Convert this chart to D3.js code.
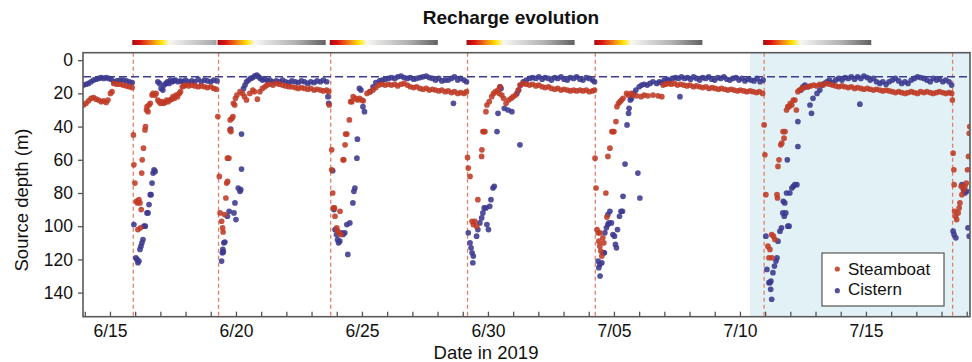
<!DOCTYPE html>
<html>
<head>
<meta charset="utf-8">
<script src="https://cdn.jsdelivr.net/npm/d3@7"></script>
<style>
  body { margin: 0; background: #fff; }
  text { font-family: "Liberation Sans", Arial, Helvetica, sans-serif; fill: #111; }
</style>
</head>
<body>
<svg id="chart" width="972" height="362"></svg>
<script>
// Times are fractional days counted from 1 June 2019 (so 35 = 5 July).
const rechargeEvents = [15.925, 19.31, 23.76, 29.19, 34.26, 40.96, 48.44];
const shadedSpan = [40.40, 49.3];
const referenceDepth = 10;
const rechargeBarDays = 4.33;
const depthTicks = [0, 20, 40, 60, 80, 100, 120, 140];
const dateLabelDays = [15, 20, 25, 30, 35, 40, 45];
const seriesNames = ["Steamboat", "Cistern"];
const seriesColors = ["#bf3a24", "#3b388e"];

// [day, source depth in m]
const steamboat = [
  [13.95,27],[14.05,26],[14.15,24.5],[14.25,23],[14.35,22.5],[14.45,23.5],[14.55,24],[14.65,25],[14.75,24.5],[14.85,25.5],[14.92,24],[15.02,20],[15.08,19],
  [15.15,14],[15.27,14.5],[15.4,14.5],[15.52,15],[15.65,15.5],[15.77,16],[15.88,16.5],
  [15.93,45],[15.95,63],[15.99,74],[16.05,85],[16.09,86],[16.11,102],[16.15,84],[16.19,86],[16.21,101],[16.24,90],[16.26,68],[16.28,60],[16.33,53],
  [16.39,42],[16.41,40],[16.45,30],[16.47,28],[16.51,31],[16.55,27],[16.6,26],[16.67,21],[16.71,20],[16.79,21],[16.83,20],[16.9,24],[16.95,25],
  [17.0,26],[17.06,25],[17.12,26],[17.18,25.5],[17.25,24],[17.31,25],[17.38,24],[17.44,23.5],[17.5,22],[17.56,23],[17.62,21],[17.68,22],[17.75,20],
  [17.8,19],[17.87,16],[17.93,15.5],[18.0,15],[18.12,15.5],[18.25,15],[18.37,15.5],[18.5,16],[18.62,15.5],[18.75,16],[18.87,16.5],[19.0,16],
  [19.12,17],[19.22,17.5],[19.28,34],
  [19.34,70],[19.37,92],[19.43,97],[19.47,101],[19.49,103.5],[19.55,93],[19.6,83],[19.63,74],[19.67,73],[19.66,59],[19.72,59],[19.76,42],[19.8,43],
  [19.77,36],[19.84,35],[19.88,34],[19.9,26],[19.95,27],[19.98,23],[20.04,21],[20.16,19],[20.26,20],[20.34,22],[20.42,24],[20.55,20],[20.67,18],
  [20.73,19],[20.85,23.5],[20.95,19],[21.05,17],[21.15,16],[21.23,15],[21.35,14.5],[21.47,15],[21.6,14],[21.72,14.5],[21.85,15],[21.97,15.5],
  [22.1,16],[22.22,16],[22.35,16.5],[22.47,17],[22.6,16.5],[22.72,17],[22.85,17.5],[22.97,17],[23.1,18],[23.22,17.5],[23.35,18],[23.47,18.5],
  [23.6,18],[23.68,19],[23.7,27],
  [23.8,54],[23.8,66],[23.84,80],[23.87,89],[23.91,89],[23.93,94],[24.0,101],[24.04,103],[24.09,104],[24.13,91],[24.17,105],[24.25,60],[24.28,60],
  [24.33,51],[24.35,44.5],[24.4,44.5],[24.5,36],[24.55,25],[24.6,25],[24.65,22],[24.75,23],[24.83,24],[24.9,23],[25.0,24],[25.05,24.5],[25.2,20],
  [25.32,19],[25.44,18],[25.55,16.5],[25.67,15],[25.8,14.5],[25.92,15],[26.05,14.5],[26.17,15],[26.3,14.5],[26.42,15.5],[26.55,14.5],[26.67,14],
  [26.8,15],[26.92,16],[27.05,16.5],[27.17,16],[27.3,17],[27.42,17.5],[27.55,17],[27.67,18],[27.8,17.5],[27.92,18],[28.05,18.5],[28.17,18],
  [28.3,19],[28.42,18.5],[28.55,19.5],[28.67,19],[28.8,20],[28.92,19.5],[29.05,20],[29.15,19],
  [29.19,58.6],[29.22,65],[29.29,70],[29.37,97],[29.42,99],[29.48,97],[29.55,100],[29.6,84],[29.75,58],[29.76,54],[29.8,43],[29.84,43],[29.88,43],
  [29.92,31],[29.96,27],[30.05,25],[30.15,22],[30.22,20],[30.3,19],[30.4,18],[30.48,16],[30.45,20],[30.55,21],[30.62,23],[30.72,26],[30.82,24],
  [30.92,23],[31.0,22],[31.1,21],[31.2,18],[31.27,15],[31.4,14],[31.52,14.5],[31.65,15],[31.77,14.5],[31.9,15.5],[32.02,15],[32.15,16],
  [32.27,16.5],[32.4,16],[32.52,17],[32.65,17.5],[32.77,17],[32.9,18],[33.02,17.5],[33.15,18],[33.27,18.5],[33.4,18],[33.52,18.5],[33.65,18],
  [33.77,18.5],[33.9,18],[34.02,19],[34.15,18.5],[34.23,18],
  [34.25,59],[34.29,77],[34.33,102],[34.37,104],[34.4,109],[34.44,112],[34.48,115],[34.52,118],[34.45,104],[34.56,107],[34.6,110],[34.68,80],
  [34.72,94.5],[34.76,58],[34.84,53],[34.92,43],[34.96,43],[35.0,43],[35.08,37],[35.12,28],[35.18,26],[35.24,25],[35.3,24],[35.36,23],[35.5,20],
  [35.56,21],[35.68,20],[35.75,21],[35.9,21.5],[36.08,22],[36.2,21],[36.35,21.5],[36.55,21],[36.75,21.5],[36.9,22],[36.95,15],[37.05,14.5],
  [37.15,14],[37.27,14.5],[37.4,14],[37.52,15],[37.65,14.5],[37.77,15],[37.9,15.5],[38.02,15],[38.15,16],[38.27,15.5],[38.4,16],[38.52,16.5],
  [38.65,16],[38.77,17],[38.9,16.5],[39.02,17],[39.15,17.5],[39.27,17],[39.4,17.5],[39.52,18],[39.65,17.5],[39.77,18],[39.9,18.5],[40.02,18],
  [40.15,18.5],[40.27,19],[40.4,18.5],[40.52,19],[40.65,19.5],[40.77,19],[40.9,20],
  [40.96,39],[40.99,57],[41.03,81],[41.11,112],[41.19,114],[41.15,119],[41.27,119],[41.26,105],[41.33,106],[41.39,108],[41.47,81],[41.49,83],
  [41.51,64],[41.55,60],[41.62,51],[41.66,50],[41.71,43],[41.79,43],[41.75,47],[41.85,30],[41.9,28],[41.95,28],[42.0,26],[42.06,27],[42.12,24],
  [42.18,24],[42.24,30],[42.3,19],[42.36,18],[42.46,17],[42.56,16.5],[42.68,16],[42.8,15.5],[42.93,15],[43.05,15.5],[43.17,14.5],[43.3,15],
  [43.42,14],[43.55,14.5],[43.67,15],[43.8,15.5],[43.92,16],[44.05,15.5],[44.17,16],[44.3,16.5],[44.42,16],[44.55,17],[44.67,16.5],[44.8,17],
  [44.92,17.5],[45.05,17],[45.17,17.5],[45.3,18],[45.42,17.5],[45.55,18],[45.67,18.5],[45.8,18],[45.92,18.5],[46.05,19],[46.17,19.5],[46.3,19],
  [46.42,19.5],[46.55,20],[46.67,19.5],[46.8,19],[46.92,19.5],[47.05,20],[47.17,19],[47.3,19.5],[47.42,19],[47.55,19.5],[47.67,20],[47.8,19.5],
  [47.92,19],[48.05,19.5],[48.17,20],[48.3,19.5],[48.4,20],
  [48.43,24],[48.46,56],[48.49,66],[48.5,75],[48.52,91],[48.56,94],[48.6,96],[48.66,92],[48.7,89],[48.73,86],[48.78,76],[48.81,81],[48.88,78],
  [48.93,76],[48.98,74],[49.03,66],[49.07,58],[49.1,44],[49.12,40]
];

const cistern = [
  [13.95,15],[14.05,14.5],[14.15,14],[14.25,13],[14.35,12],[14.45,11.5],[14.55,11],[14.65,10.5],[14.75,11],[14.85,10.5],[14.95,11],[15.05,11.5],
  [15.15,13],[15.27,12.5],[15.4,12],[15.52,12],[15.65,12.5],[15.77,13],[15.88,13.5],
  [15.95,99],[16.03,119],[16.07,120],[16.11,122],[16.15,121],[16.19,114],[16.23,112],[16.27,110],[16.31,108],[16.35,100],[16.4,100],[16.47,92],
  [16.51,92],[16.55,87],[16.6,81],[16.63,81],[16.67,74],[16.71,68],[16.75,66],[16.79,67],[16.9,13],[16.97,14],[17.03,17],[17.1,18],[17.15,15],
  [17.22,14],[17.28,13],[17.35,14],[17.4,12],[17.47,13],[17.53,12.5],[17.6,12],[17.7,13],[17.8,12.5],[17.9,13],[18.0,12],[18.12,13],[18.25,12.5],
  [18.37,13],[18.5,11.5],[18.62,13],[18.75,12],[18.87,12.5],[19.0,13],[19.12,12],[19.25,12.5],
  [19.43,121],[19.46,116],[19.48,114],[19.5,115.5],[19.52,110],[19.56,109.5],[19.66,94],[19.73,91],[19.79,41.5],[19.92,92],[19.96,86],[20.0,96],
  [20.09,77],[20.16,79],[20.19,78],[20.22,65.6],[20.22,44.5],[20.3,17],[20.36,15],[20.42,13],[20.5,12],[20.58,11],[20.67,10.5],[20.75,9.5],
  [20.83,9],[20.9,10],[20.97,11],[21.05,12],[21.15,11.5],[21.25,12.5],[21.35,12],[21.47,13],[21.6,12.5],[21.72,13],[21.85,12],[21.97,13],
  [22.1,13.5],[22.22,12.5],[22.35,13],[22.47,13.5],[22.6,12.5],[22.72,13],[22.85,14],[22.97,13],[23.1,13.5],[23.22,12.5],[23.35,13],[23.47,12],
  [23.6,13],[23.65,22],[23.68,26],
  [23.84,66.6],[23.89,90],[23.93,102],[23.99,105],[24.03,108],[24.07,110],[24.12,109],[24.2,104],[24.25,105],[24.32,104],[24.4,99],[24.44,117],
  [24.52,98],[24.64,86],[24.68,79],[24.72,77],[24.8,59],[24.82,47.6],[24.9,17],[24.96,18],[25.04,28],[25.1,31],[25.32,19],[25.44,16],[25.55,13.5],
  [25.7,12.5],[25.8,12],[25.92,11.5],[26.05,11],[26.17,10.5],[26.3,11],[26.42,10],[26.55,9.6],[26.67,10.5],[26.8,11],[26.92,10.5],[27.05,11.5],
  [27.17,11],[27.3,10.5],[27.42,10],[27.55,9.6],[27.67,10.5],[27.8,11],[27.92,12],[28.05,11],[28.17,12.5],[28.3,12],[28.42,12],[28.55,11],
  [28.63,26],[28.67,10],[28.8,12],[28.92,11],[29.05,12],[29.15,13],
  [29.22,104],[29.29,110],[29.33,113],[29.37,116],[29.42,118],[29.4,122],[29.55,106],[29.6,102],[29.68,98],[29.75,95],[29.8,92],[29.85,89],
  [29.92,89],[29.96,99],[30.02,102],[30.07,88],[30.12,84],[30.2,77],[30.25,76],[30.36,43],[30.4,32],[30.48,16],[30.52,17],[30.65,29],[30.8,30],
  [30.95,31],[31.27,51],[31.15,20],[31.22,18],[31.3,15],[31.4,13],[31.52,12],[31.65,11],[31.77,10.5],[31.9,11],[32.02,10],[32.15,11.5],
  [32.27,10.5],[32.4,11],[32.52,12],[32.65,10.5],[32.77,11],[32.9,10],[33.02,11.5],[33.15,12],[33.27,10.5],[33.4,11],[33.52,10],[33.65,11.5],
  [33.77,12],[33.9,10.5],[34.02,11],[34.15,12],[34.23,13],
  [34.37,121],[34.44,123],[34.4,125],[34.45,130],[34.52,122],[34.58,116],[34.62,116],[34.64,104],[34.7,101],[34.76,99],[34.8,98],[34.76,93],
  [34.84,91],[34.9,98],[34.96,105],[35.02,106],[35.06,111],[35.1,113],[35.14,102],[35.22,94],[35.28,91],[35.34,91],[35.36,82],[35.44,62.6],
  [35.52,39],[35.58,32],[35.6,29],[35.65,24],[35.7,23],[35.78,20],[35.87,18],[35.95,68],[36.03,83],[36.0,16],[36.1,15],[36.2,14.5],[36.32,15],
  [36.43,14],[36.55,13],[36.7,14],[36.8,13],[36.9,13.5],[37.0,12],[37.12,11.5],[37.2,12.5],[37.32,11],[37.44,10.5],[37.56,11],[37.62,22],
  [37.68,10],[37.8,11],[37.92,10.5],[38.04,11.5],[38.16,10],[38.28,11],[38.4,12],[38.52,10.5],[38.64,11],[38.76,10],[38.88,11.5],[39.0,12],
  [39.12,10.5],[39.24,11],[39.36,10],[39.48,11.5],[39.6,12],[39.72,11],[39.84,10.5],[39.96,12],[40.08,11],[40.2,12.5],[40.32,11.5],[40.44,12],
  [40.56,12.5],[40.68,11],[40.8,13],[40.92,12],
  [41.03,106],[41.07,126],[41.15,134],[41.19,134],[41.22,138],[41.26,144],[41.23,133],[41.31,128],[41.37,124],[41.43,121],[41.47,119],[41.51,109],
  [41.59,103],[41.65,101],[41.7,92],[41.76,94],[41.82,92],[41.72,85],[41.78,86],[41.85,80],[41.9,100],[41.95,100],[41.98,80],[41.88,60],[42.06,77],
  [42.12,76],[42.18,75],[42.26,75],[42.3,52],[42.3,37],[42.42,18],[42.5,16],[42.58,15],[42.7,16],[42.78,27],[42.84,32],[42.9,23],[43.06,20],
  [43.17,18],[43.25,15],[43.35,14],[43.45,13],[43.55,12],[43.67,13.5],[43.8,12],[43.92,11],[44.05,12],[44.17,10.5],[44.3,11],[44.42,10],
  [44.55,11.5],[44.67,10],[44.76,26.5],[44.8,11],[44.92,9.6],[45.05,10.5],[45.17,12],[45.3,11],[45.42,13],[45.55,14],[45.67,13],[45.8,14.5],
  [45.92,13],[46.05,12],[46.17,11],[46.3,12.5],[46.42,14],[46.55,13],[46.67,14],[46.8,12],[46.92,11],[47.05,10],[47.17,10.5],[47.3,11],
  [47.42,12],[47.55,13],[47.67,11],[47.8,12],[47.92,11.5],[48.05,13],[48.17,12],[48.3,13],[48.4,15],
  [48.46,103],[48.5,105],[48.57,107],[48.81,75],[48.87,78],[48.93,80],[49.0,79],[49.05,101],[49.1,106]
];

const toDate = d => new Date(Date.UTC(2019, 5, 1) + (d - 1) * 864e5);

const plot = { left: 83, right: 970, top: 52.7, bottom: 316.7 };
const svg = d3.select("#chart");

const x = d3.scaleUtc()
  .domain([toDate(13.93), toDate(49.13)])
  .range([plot.left, plot.right]);
const y = d3.scaleLinear()
  .domain([-4.5, 154.5])
  .range([plot.top, plot.bottom]);

const defs = svg.append("defs");
defs.append("clipPath").attr("id", "plot-clip")
  .append("rect")
  .attr("x", plot.left).attr("y", plot.top)
  .attr("width", plot.right - plot.left).attr("height", plot.bottom - plot.top);

// Shaded window at the end of the record
const shadeX0 = x(toDate(shadedSpan[0]));
svg.append("rect")
  .attr("clip-path", "url(#plot-clip)")
  .attr("x", shadeX0).attr("y", plot.top)
  .attr("width", x(toDate(shadedSpan[1])) - shadeX0)
  .attr("height", plot.bottom - plot.top)
  .attr("fill", "#e2f1f6");

// Recharge event markers
svg.append("g").selectAll("line").data(rechargeEvents).join("line")
  .attr("x1", d => x(toDate(d))).attr("x2", d => x(toDate(d)))
  .attr("y1", plot.top).attr("y2", plot.bottom)
  .attr("stroke", "#e0806a").attr("stroke-width", 1.3)
  .attr("stroke-dasharray", "4,3");

// Scatter points
const pts = svg.append("g").attr("clip-path", "url(#plot-clip)");
[[cistern, seriesColors[1]], [steamboat, seriesColors[0]]].forEach(([data, color]) => {
  pts.append("g").selectAll("circle").data(data).join("circle")
    .attr("cx", d => x(toDate(d[0])))
    .attr("cy", d => y(d[1]))
    .attr("r", 2.85)
    .attr("fill", color)
    .attr("fill-opacity", 0.88);
});

// Reference depth line
svg.append("line")
  .attr("x1", plot.left).attr("x2", plot.right)
  .attr("y1", y(referenceDepth)).attr("y2", y(referenceDepth))
  .attr("stroke", "#3d3d8f").attr("stroke-width", 1.5)
  .attr("stroke-dasharray", "8,4");

// Axes
const dayTicks = d3.range(14, 50).map(toDate);
const labelSet = new Set(dateLabelDays.map(d => +toDate(d)));
const fmt = d3.utcFormat("%-m/%d");
const xAxis = svg.append("g")
  .attr("transform", `translate(0,${plot.bottom})`)
  .call(d3.axisBottom(x).tickValues(dayTicks).tickSize(-5).tickPadding(8)
    .tickFormat(d => labelSet.has(+d) ? fmt(d) : ""));
const yAxis = svg.append("g")
  .attr("transform", `translate(${plot.left},0)`)
  .call(d3.axisLeft(y).tickValues(depthTicks).tickSize(5).tickPadding(5));
[xAxis, yAxis].forEach(a => {
  a.select(".domain").remove();
  a.attr("font-size", null).attr("font-family", null);
  a.selectAll("line").attr("stroke", "#555").attr("stroke-width", 1.3);
  a.selectAll("text").attr("font-size", 17.5).attr("fill", "#111");
});

// Frame
svg.append("rect")
  .attr("x", plot.left).attr("y", plot.top)
  .attr("width", plot.right - plot.left).attr("height", plot.bottom - plot.top)
  .attr("fill", "none").attr("stroke", "#5a5a5a").attr("stroke-width", 1.6);

// Recharge evolution colour bars
const barW = x(toDate(15 + rechargeBarDays)) - x(toDate(15));
const grad = defs.append("linearGradient").attr("id", "recharge-grad")
  .attr("gradientUnits", "userSpaceOnUse")
  .attr("x1", 0).attr("x2", barW).attr("y1", 0).attr("y2", 0);
[[0, "#a60c10"], [0.07, "#dc1414"], [0.17, "#f07a18"], [0.27, "#ffe600"],
 [0.34, "#f7f7f2"], [0.44, "#e3e3e3"], [0.72, "#b0b0b0"], [1, "#5e5e5e"]]
  .forEach(([o, c]) => grad.append("stop").attr("offset", o).attr("stop-color", c));
svg.append("g").selectAll("g").data(rechargeEvents.slice(0, -1)).join("g")
  .attr("transform", d => `translate(${x(toDate(d)) - 1},40)`)
  .append("rect")
  .attr("width", (d, i) => {
    const end = Math.min(d + rechargeBarDays, rechargeEvents[i + 1]);
    return x(toDate(end)) - x(toDate(d)) - 1;
  })
  .attr("height", 5)
  .attr("fill", "url(#recharge-grad)");

// Legend
const legend = svg.append("g").attr("transform", "translate(822,253)");
legend.append("rect").attr("width", 122).attr("height", 53)
  .attr("fill", "#fff").attr("stroke", "#555").attr("stroke-width", 1.2);
seriesNames.forEach((name, i) => {
  legend.append("circle").attr("cx", 15.3).attr("cy", 16 + i * 21.7).attr("r", 2.6)
    .attr("fill", seriesColors[i]).attr("fill-opacity", 0.88);
  legend.append("text").attr("x", 26).attr("y", 21.5 + i * 20.3)
    .attr("font-size", 17).text(name);
});

// Titles
svg.append("text").attr("x", 511).attr("y", 23.5).attr("text-anchor", "middle")
  .attr("font-size", 19).attr("font-weight", "bold").text("Recharge evolution");
svg.append("text").attr("x", 486).attr("y", 358.5).attr("text-anchor", "middle")
  .attr("font-size", 18.5).text("Date in 2019");
svg.append("text").attr("transform", "translate(28,200) rotate(-90)")
  .attr("text-anchor", "middle").attr("font-size", 18.5).text("Source depth (m)");
</script>
</body>
</html>
